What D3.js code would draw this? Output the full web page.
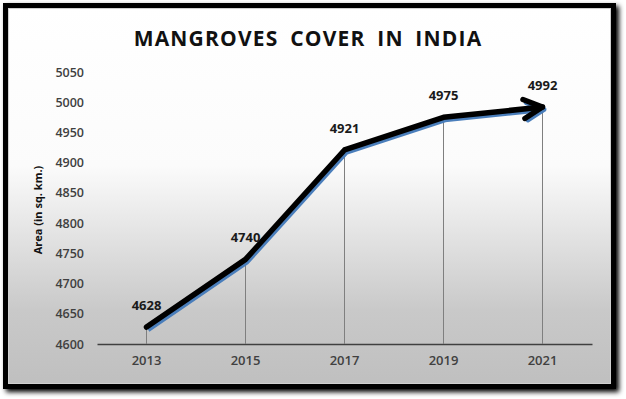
<!DOCTYPE html>
<html>
<head>
<meta charset="utf-8">
<script src="https://cdn.jsdelivr.net/npm/d3@7"></script>
<style>
  body { margin: 0; background: #fff; }
  svg { display: block; }
</style>
</head>
<body>
<div id="chart"></div>
<script>
// data
var years = ["2013", "2015", "2017", "2019", "2021"];
var areas = [4628, 4740, 4921, 4975, 4992];
var yTicks = [4600, 4650, 4700, 4750, 4800, 4850, 4900, 4950, 5000, 5050];

var W = 626, H = 399;
var margin = {top: 72, right: 34, bottom: 55, left: 97};

var svg = d3.select("#chart").append("svg")
  .attr("width", W)
  .attr("height", H);

var defs = svg.append("defs");

// soft drop shadow for the frame
var sh = defs.append("filter").attr("id", "shadow")
  .attr("x", "-5%").attr("y", "-5%").attr("width", "110%").attr("height", "110%");
sh.append("feGaussianBlur").attr("in", "SourceAlpha").attr("stdDeviation", 2.5);
sh.append("feOffset").attr("dx", 3).attr("dy", 3).attr("result", "b");
var fm = sh.append("feMerge");
fm.append("feMergeNode").attr("in", "b");
fm.append("feMergeNode").attr("in", "SourceGraphic");

var grad = defs.append("linearGradient").attr("id", "bg")
  .attr("x1", 0).attr("y1", 0).attr("x2", 0).attr("y2", 1);
grad.append("stop").attr("offset", "0%").attr("stop-color", "#ffffff");
grad.append("stop").attr("offset", "42%").attr("stop-color", "#fbfbfb");
grad.append("stop").attr("offset", "80%").attr("stop-color", "#c9c9c9");
grad.append("stop").attr("offset", "100%").attr("stop-color", "#bfbfbf");

// arrow heads (black line + blue shadow)
function arrow(id, col) {
  defs.append("marker").attr("id", id)
    .attr("viewBox", "0 0 10 10")
    .attr("refX", 8.3).attr("refY", 5)
    .attr("markerWidth", 5.4).attr("markerHeight", 5.4)
    .attr("markerUnits", "strokeWidth")
    .attr("orient", "auto")
    .append("path")
    .attr("d", "M2,1.8 L8.3,5 L2,8.2")
    .attr("fill", "none")
    .attr("stroke", col)
    .attr("stroke-width", 1.8)
    .attr("stroke-linecap", "round")
    .attr("stroke-linejoin", "round");
}
arrow("arrBlue", "#4a7ebb");
arrow("arrBlack", "#000");

// frame
svg.append("rect")
  .attr("x", 5.5).attr("y", 5.5)
  .attr("width", 608).attr("height", 381)
  .attr("fill", "url(#bg)")
  .attr("stroke", "#000")
  .attr("stroke-width", 5)
  .attr("filter", "url(#shadow)");
svg.append("rect")
  .attr("x", 8.5).attr("y", 8.5)
  .attr("width", 602).attr("height", 375)
  .attr("fill", "none")
  .attr("stroke", "#d0d0d0")
  .attr("stroke-width", 1);

//scalers
var x = d3.scaleBand()
  .domain(years)
  .range([margin.left, W - margin.right]);
var y = d3.scaleLinear()
  .domain([4600, 5050])
  .range([H - margin.bottom, margin.top]);

var cx = function(d) { return x(d) + x.bandwidth() / 2; };

var font = "'Open Sans', 'Noto Sans', sans-serif";

// title
svg.append("text")
  .attr("x", 308).attr("y", 46)
  .attr("text-anchor", "middle")
  .style("font-family", font)
  .style("font-weight", "bold")
  .style("font-size", "21px")
  .style("letter-spacing", "1.2px")
  .style("word-spacing", "5px")
  .attr("fill", "#111")
  .text("MANGROVES COVER IN INDIA");

// y axis labels only (no line)
var yaxis = d3.axisLeft(y).tickValues(yTicks).tickFormat(d3.format("d"))
  .tickSize(0).tickPadding(13);
var gy = svg.append("g")
  .attr("transform", "translate(" + margin.left + ",0)")
  .call(yaxis);
gy.select(".domain").remove();
gy.selectAll("text")
  .style("font-family", font)
  .style("font-size", "12.5px")
  .style("font-weight", "600")
  .attr("fill", "#404040");

// y title
svg.append("text")
  .attr("transform", "translate(42,210) rotate(-90)")
  .attr("text-anchor", "middle")
  .style("font-family", font)
  .style("font-weight", "bold")
  .style("font-size", "11px")
  .attr("fill", "#111")
  .text("Area (in sq. km.)");

// x axis
var xaxis = d3.axisBottom(x).tickSize(0).tickPadding(12);
var gx = svg.append("g")
  .attr("transform", "translate(0," + y(4600) + ")")
  .call(xaxis);
gx.select(".domain")
  .attr("stroke", "#404040")
  .attr("stroke-width", 1.5);
gx.selectAll("text")
  .style("font-family", font)
  .style("font-size", "13px")
  .style("font-weight", "600")
  .attr("fill", "#404040");

var pts = years.map(function(d, i) { return {yr: d, v: areas[i]}; });

// drop lines
svg.append("g").selectAll("line")
  .data(pts).enter().append("line")
  .attr("x1", function(d) { return cx(d.yr); })
  .attr("x2", function(d) { return cx(d.yr); })
  .attr("y1", function(d) { return y(d.v); })
  .attr("y2", y(4600))
  .attr("stroke", "#7f7f7f")
  .attr("stroke-width", 1);

var line = d3.line()
  .x(function(d) { return cx(d.yr); })
  .y(function(d) { return y(d.v); });

// blue shadow line
svg.append("path")
  .datum(pts)
  .attr("d", line)
  .attr("transform", "translate(1.5,2.5)")
  .attr("fill", "none")
  .attr("stroke", "#4a7ebb")
  .attr("stroke-width", 5)
  .attr("stroke-linejoin", "round")
  .attr("marker-end", "url(#arrBlue)");

// black line
svg.append("path")
  .datum(pts)
  .attr("d", line)
  .attr("fill", "none")
  .attr("stroke", "#000")
  .attr("stroke-width", 5.5)
  .attr("stroke-linejoin", "round")
  .attr("stroke-linecap", "round")
  .attr("marker-end", "url(#arrBlack)");

// value labels
svg.append("g").selectAll("text")
  .data(pts).enter().append("text")
  .attr("x", function(d) { return cx(d.yr); })
  .attr("y", function(d) { return y(d.v) - 17; })
  .attr("text-anchor", "middle")
  .style("font-family", font)
  .style("font-weight", "bold")
  .style("font-size", "13px")
  .attr("fill", "#1a1a1a")
  .text(function(d) { return d.v; });
</script>
</body>
</html>
